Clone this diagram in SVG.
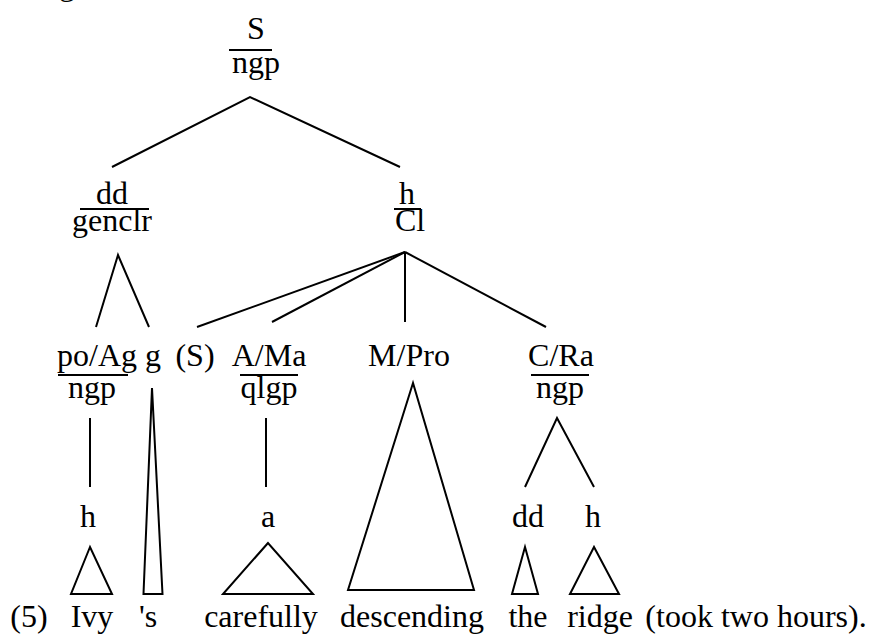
<svg xmlns="http://www.w3.org/2000/svg" width="874" height="635" viewBox="0 0 874 635">
<style>
text{font-family:"Liberation Serif","Times New Roman",serif;font-size:32px;fill:#000;text-anchor:middle}
.ln{stroke:#000;stroke-width:2;fill:none;stroke-linecap:butt}
.tri{stroke:#000;stroke-width:2;fill:none;stroke-linejoin:miter}
</style>
<rect width="874" height="635" fill="#fff"/>
<text x="67" y="-5">g</text>
<g id="n-S"><text x="256" y="39">S</text><line class="ln" x1="229" y1="50" x2="272" y2="50"/><text x="256" y="73">ngp</text></g>
<g id="n-dd"><text x="112" y="204">dd</text><line class="ln" x1="80" y1="209" x2="149" y2="209"/><text x="112" y="231">genclr</text></g>
<g id="n-h"><text x="407" y="204">h</text><line class="ln" x1="394" y1="209" x2="421" y2="209"/><text x="410" y="231">Cl</text></g>
<g id="n-poAg"><text x="97" y="366">po/Ag</text><line class="ln" x1="58" y1="375" x2="128" y2="375"/><text x="92" y="398">ngp</text></g>
<g id="n-g"><text x="153" y="366">g</text></g>
<g id="n-S2"><text x="195" y="366">(S)</text></g>
<g id="n-AMa"><text x="269" y="366">A/Ma</text><line class="ln" x1="240" y1="375" x2="298" y2="375"/><text x="269" y="398">qlgp</text></g>
<g id="n-MPro"><text x="409" y="366">M/Pro</text></g>
<g id="n-CRa"><text x="561" y="366">C/Ra</text><line class="ln" x1="531" y1="375" x2="589" y2="375"/><text x="560" y="398">ngp</text></g>
<g id="n-h2"><text x="88" y="527">h</text></g>
<g id="n-a"><text x="268" y="527">a</text></g>
<g id="n-dd2"><text x="528" y="527">dd</text></g>
<g id="n-h3"><text x="593" y="527">h</text></g>
<g id="words">
<text x="29" y="627">(5)</text>
<text x="92" y="627">Ivy</text>
<text x="148" y="627">'s</text>
<text x="261" y="627">carefully</text>
<text x="412" y="627">descending</text>
<text x="528" y="627">the</text>
<text x="600" y="627">ridge</text>
<text x="756" y="627">(took two hours).</text>
</g>
<g id="connectors">
<polyline class="ln" points="112,167 250,97 400,167"/>
<polyline class="ln" points="96,327 118,255 149,327"/>
<line class="ln" x1="405" y1="252" x2="197" y2="327"/>
<line class="ln" x1="405" y1="252" x2="272" y2="322"/>
<line class="ln" x1="405" y1="252" x2="405" y2="322"/>
<line class="ln" x1="405" y1="252" x2="546" y2="327"/>
<line class="ln" x1="90" y1="418" x2="90" y2="487"/>
<line class="ln" x1="266" y1="418" x2="266" y2="487"/>
<polyline class="ln" points="525,487 557,418 594,487"/>
<polygon class="tri" points="152,388 143.5,594 162.5,594"/>
<polygon class="tri" points="90,547 71,594 112,594"/>
<polygon class="tri" points="268,543 223,594 313,594"/>
<polygon class="tri" points="413,383 348,590 474,590"/>
<polygon class="tri" points="525,547 512,594 538,594"/>
<polygon class="tri" points="594,547 570,594 619,594"/>
</g>
</svg>
